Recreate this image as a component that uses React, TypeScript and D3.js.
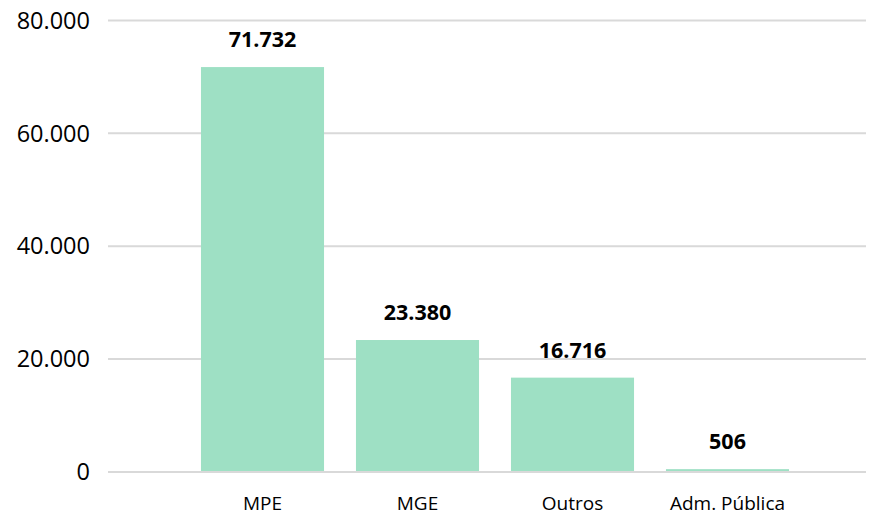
import React from "react";
import * as d3 from "d3";

const categories = ["MPE", "MGE", "Outros", "Adm. Pública"];
const values = [71732, 23380, 16716, 506];
const yTicks = [0, 20000, 40000, 60000, 80000];

const W = 869;
const H = 515;

const fmt = (v: number) => d3.format(",")(v).replace(/,/g, ".");

export default function App() {
  const x = d3.scaleBand<string>().domain(categories).range([185, 805]).paddingInner(0.206).paddingOuter(0.103);
  const y = d3.scaleLinear().domain([0, 80000]).range([472, 20.4]);
  const font = "'Open Sans', 'Noto Sans', sans-serif";
  return (
    <svg width={W} height={H} style={{ position: "absolute", left: 0, top: 0, background: "#fff" }}>
      {yTicks.map((t) => (
        <g key={t}>
          <line x1={108} x2={866} y1={y(t)} y2={y(t)} stroke="#d9d9d9" strokeWidth={2} />
          <text x={90} y={y(t)} dy="0.35em" textAnchor="end" fontFamily={font} fontSize={23.5} fill="#000">
            {fmt(t)}
          </text>
        </g>
      ))}
      {categories.map((c, i) => (
        <g key={c}>
          <rect x={x(c)} y={y(values[i])} width={x.bandwidth()} height={y(0) - y(values[i]) - 1} fill="#9ee0c4" />
          <text x={x(c)! + x.bandwidth() / 2} y={y(values[i]) - 20} textAnchor="middle" fontFamily={font} fontWeight="bold" fontSize={21.5} fill="#000">
            {fmt(values[i])}
          </text>
          <text x={x(c)! + x.bandwidth() / 2} y={510} textAnchor="middle" fontFamily={font} fontSize={19} fill="#000">
            {c}
          </text>
        </g>
      ))}
    </svg>
  );
}
